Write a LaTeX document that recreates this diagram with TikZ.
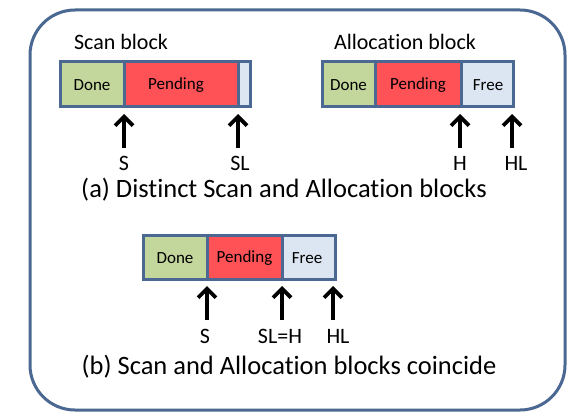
\documentclass[tikz,border=0pt]{standalone}
\usepackage{fontspec}
\setmainfont{Carlito}[RawFeature=-liga]
\usetikzlibrary{arrows.meta}
\definecolor{bord}{HTML}{4A6891}
\definecolor{donec}{HTML}{C3D69B}
\definecolor{pendc}{HTML}{FF5257}
\definecolor{freec}{HTML}{DCE6F2}
\begin{document}
\begin{tikzpicture}[x=1pt,y=-1pt,
  seg/.style={draw=bord,line width=3pt,inner sep=0pt},
  segtxt/.style={font=\fontsize{17}{20}\selectfont,inner sep=0pt},
  ptr/.style={line width=3.8pt,-{Straight Barb[length=9pt,width=18pt,line width=3.8pt]}},
  lbl/.style={font=\fontsize{22}{26}\selectfont,inner sep=0pt},
  captxt/.style={font=\fontsize{26.5}{30}\selectfont,inner sep=0pt},
  plbl/.style={font=\fontsize{22}{26}\selectfont,inner sep=0pt}]
\useasboundingbox (0,0) rectangle (578,420);
\draw[bord,line width=3pt,rounded corners=45pt] (30,10) rectangle (565,410);
% Scan block
\node[lbl] (scanlbl) at (121,42) {Scan block};
\path[seg,fill=donec] (60,62) rectangle (124,106);
\path[seg,fill=pendc] (124,62) rectangle (238,106);
\path[seg,fill=freec] (238,62) rectangle (250,106);
\node[segtxt] (sdone) at (92,85) {Done};
\node[segtxt] (spend) at (176,85) {Pending};
\coordinate (sS) at (124,148);
\coordinate (sSt) at (124,114);
\coordinate (sSL) at (238,148);
\coordinate (sSLt) at (238,114);
\draw[ptr] (sS) -- (sSt);
\draw[ptr] (sSL) -- (sSLt);
\node[plbl] (lS) at (124,163) {S};
\node[plbl] (lSL) at (240,163) {SL};
% Allocation block
\node[lbl] (alloclbl) at (405,42) {Allocation block};
\path[seg,fill=donec] (322,62) rectangle (375,106);
\path[seg,fill=pendc] (375,62) rectangle (461,106);
\path[seg,fill=freec] (461,62) rectangle (513,106);
\node[segtxt] (adone) at (348.5,85) {Done};
\node[segtxt] (apend) at (418,85) {Pending};
\node[segtxt] (afree) at (488,85) {Free};
\coordinate (aH) at (460,148);
\coordinate (aHt) at (460,114);
\coordinate (aHL) at (512,148);
\coordinate (aHLt) at (512,114);
\draw[ptr] (aH) -- (aHt);
\draw[ptr] (aHL) -- (aHLt);
\node[plbl] (lH) at (460,163) {H};
\node[plbl] (lHL) at (516,163) {HL};
\node[captxt] (capa) at (284,190) {(a) Distinct Scan and Allocation blocks};
% Combined block
\path[seg,fill=donec] (143,235) rectangle (207,279);
\path[seg,fill=pendc] (207,235) rectangle (282,279);
\path[seg,fill=freec] (282,235) rectangle (335,279);
\node[segtxt] (bdone) at (175,258) {Done};
\node[segtxt] (bpend) at (244.5,258) {Pending};
\node[segtxt] (bfree) at (307,258) {Free};
\coordinate (bS) at (207,320);
\coordinate (bSt) at (207,286);
\coordinate (bSL) at (282,320);
\coordinate (bSLt) at (282,286);
\coordinate (bHL) at (333,320);
\coordinate (bHLt) at (333,286);
\draw[ptr] (bS) -- (bSt);
\draw[ptr] (bSL) -- (bSLt);
\draw[ptr] (bHL) -- (bHLt);
\node[plbl] (lbS) at (205,336) {S};
\node[plbl] (lbSL) at (280,336) {SL=H};
\node[plbl] (lbHL) at (338,336) {HL};
\node[captxt] (capb) at (289,367) {(b) Scan and Allocation blocks coincide};
\end{tikzpicture}
\end{document}
